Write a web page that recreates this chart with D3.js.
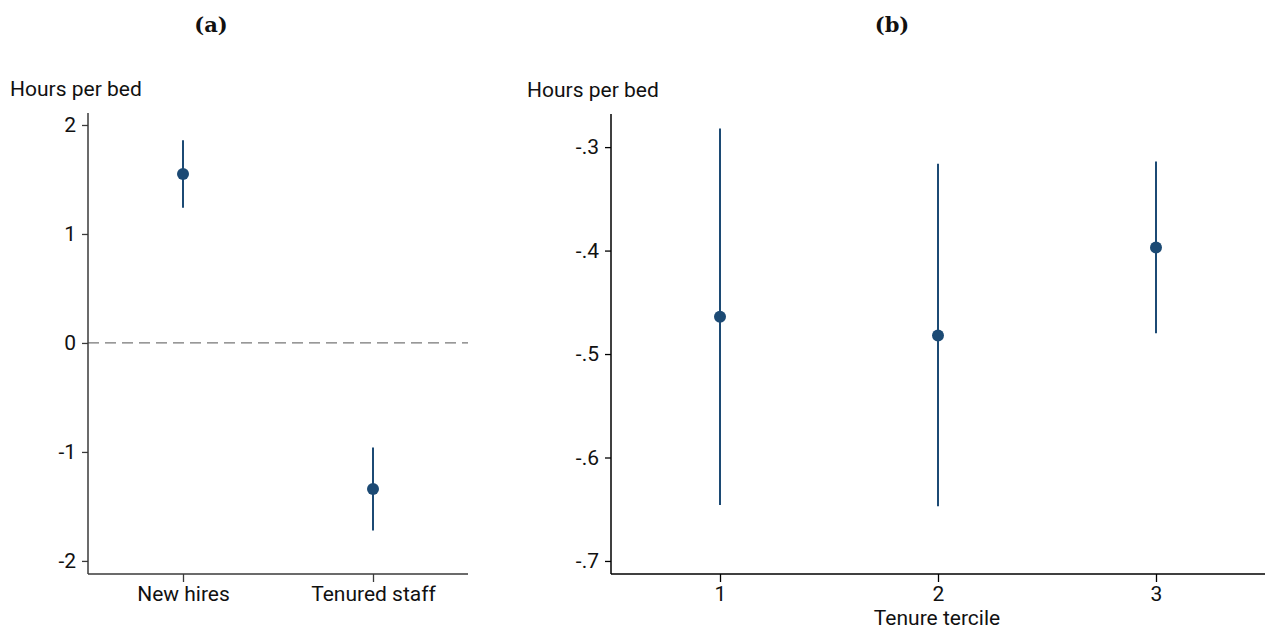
<!DOCTYPE html>
<html>
<head>
<meta charset="utf-8">
<script src="https://cdn.jsdelivr.net/npm/d3@7"></script>
<style>
  html, body { margin: 0; padding: 0; background: #fff; }
  svg { display: block; }
  .tick text { font-family: Roboto, "Noto Sans", sans-serif; font-size: 21px; fill: #111; }
</style>
</head>
<body>
<svg id="chart" width="1274" height="634"></svg>
<script>
// Panel (a): estimates by group
const groupLabels = ["New hires", "Tenured staff"];
const groupEstimate = [1.55, -1.34];
const groupLower = [1.24, -1.72];
const groupUpper = [1.86, -0.96];
const groupYTicks = [-2, -1, 0, 1, 2];

// Panel (b): estimates by tenure tercile
const terciles = [1, 2, 3];
const tercileEstimate = [-0.464, -0.482, -0.397];
const tercileLower = [-0.646, -0.647, -0.480];
const tercileUpper = [-0.282, -0.316, -0.314];
const tercileYTicks = [-0.7, -0.6, -0.5, -0.4, -0.3];

const markColor = "#1c4a74";
const svg = d3.select("#chart");
const fontSans = "Roboto, 'Noto Sans', sans-serif";

function panel(opts) {
  const g = svg.append("g");
  const x = d3.scaleLinear().domain(opts.xDomain).range([opts.left, opts.right]);
  const y = d3.scaleLinear().domain(opts.yDomain).range([opts.bottom, opts.top]);

  // reference line
  if (opts.zeroLine) {
    g.append("line")
      .attr("x1", opts.left).attr("x2", opts.right)
      .attr("y1", y(0)).attr("y2", y(0))
      .attr("stroke", "#777").attr("stroke-width", 1.3)
      .attr("stroke-dasharray", "11,6");
  }

  // y axis
  const yAxis = d3.axisLeft(y).tickValues(opts.yTicks).tickSize(6).tickPadding(6)
    .tickFormat(opts.yFormat);
  const ya = g.append("g").attr("transform", `translate(${opts.left},0)`).call(yAxis);
  ya.select(".domain").remove();
  ya.selectAll(".tick line").attr("stroke", opts.axisColor).attr("stroke-width", 1.3);
  g.append("line")
    .attr("x1", opts.left).attr("x2", opts.left)
    .attr("y1", opts.top).attr("y2", opts.bottom)
    .attr("stroke", opts.axisColor).attr("stroke-width", 1.5);

  // x axis
  const xAxis = d3.axisBottom(x).tickValues(opts.xValues).tickSize(8).tickPadding(4)
    .tickFormat((d, i) => opts.xLabels[i]);
  const xa = g.append("g").attr("transform", `translate(0,${opts.bottom})`).call(xAxis);
  xa.select(".domain").remove();
  xa.selectAll(".tick line").attr("stroke", opts.axisColor).attr("stroke-width", 1.3);
  g.append("line")
    .attr("x1", opts.left).attr("x2", opts.right)
    .attr("y1", opts.bottom).attr("y2", opts.bottom)
    .attr("stroke", opts.axisColor).attr("stroke-width", 1.5);

  // confidence intervals
  g.selectAll("line.ci").data(opts.xValues).enter().append("line")
    .attr("class", "ci")
    .attr("x1", d => x(d)).attr("x2", d => x(d))
    .attr("y1", (d, i) => y(opts.lower[i])).attr("y2", (d, i) => y(opts.upper[i]))
    .attr("stroke", markColor).attr("stroke-width", 2);

  // point estimates
  g.selectAll("circle.pt").data(opts.xValues).enter().append("circle")
    .attr("class", "pt")
    .attr("cx", d => x(d)).attr("cy", (d, i) => y(opts.estimate[i]))
    .attr("r", 6).attr("fill", markColor);

  // y title
  g.append("text")
    .attr("x", opts.yTitleX).attr("y", opts.top - 17)
    .attr("font-family", fontSans).attr("font-size", 21).attr("fill", "#111")
    .text("Hours per bed");

  if (opts.xTitle) {
    g.append("text")
      .attr("x", (opts.left + opts.right) / 2 + opts.xTitleShift).attr("y", opts.bottom + 51)
      .attr("text-anchor", "middle")
      .attr("font-family", fontSans).attr("font-size", 21).attr("fill", "#111")
      .text(opts.xTitle);
  }

  // panel label
  svg.append("text")
    .attr("x", opts.labelX).attr("y", 32)
    .attr("text-anchor", "middle")
    .attr("font-family", "'DejaVu Serif', serif").attr("font-weight", "bold")
    .attr("font-size", 21).attr("fill", "#111")
    .text(opts.label);
}

panel({
  left: 88, right: 468, top: 113, bottom: 574,
  xDomain: [0.5, 2.5], xValues: [1, 2], xLabels: groupLabels,
  yDomain: [-2.12, 2.11], yTicks: groupYTicks, yFormat: d => String(d),
  estimate: groupEstimate, lower: groupLower, upper: groupUpper,
  zeroLine: true, axisColor: "#3a3a3a", yTitleX: 10,
  label: "(a)", labelX: 211
});

panel({
  left: 611, right: 1265, top: 114, bottom: 574,
  xDomain: [0.5, 3.5], xValues: terciles, xLabels: terciles.map(String),
  yDomain: [-0.7126, -0.268], yTicks: tercileYTicks,
  yFormat: d => "-." + Math.round(Math.abs(d) * 10),
  estimate: tercileEstimate, lower: tercileLower, upper: tercileUpper,
  zeroLine: false, axisColor: "#000", yTitleX: 527,
  xTitle: "Tenure tercile", xTitleShift: -1,
  label: "(b)", labelX: 892
});
</script>
</body>
</html>
